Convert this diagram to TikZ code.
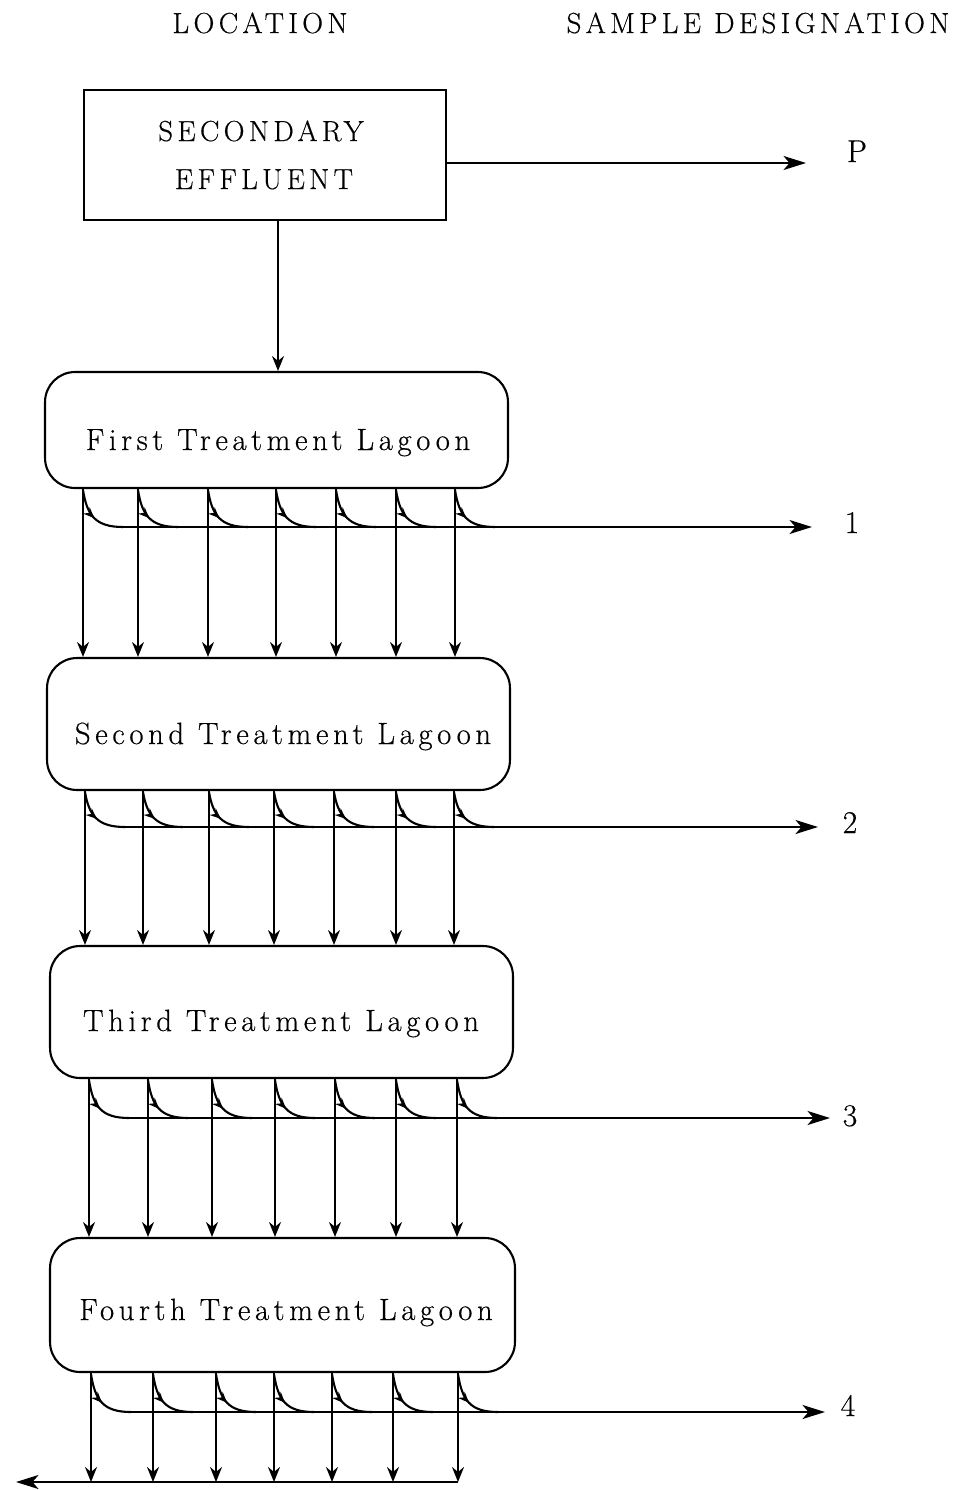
\documentclass[tikz,border=0pt]{standalone}
\usepackage{fontspec}
\setmainfont{Latin Modern Roman}[LetterSpace=15, FakeBold=0.4]
\usetikzlibrary{arrows.meta,decorations.markings}
\begin{document}
\begin{tikzpicture}[x=0.02cm,y=-0.02cm,
  line width=1.2pt,
  txt/.style={font=\fontsize{16.5}{19}\selectfont, inner sep=0pt, anchor=base},
  lagtxt/.style={font=\fontsize{17.5}{20}\selectfont, inner sep=0pt, anchor=base},
  numtxt/.style={font=\fontsize{18}{20}\selectfont, inner sep=0pt, anchor=base},
  lagoon/.style={draw, rounded corners=0.6cm, inner sep=0pt, minimum width=9.26cm},
  main/.style={-{Stealth[length=4.5mm,width=2.8mm,inset=1.2mm]}},
  down/.style={-{Stealth[length=3mm,width=2.4mm,inset=1mm]}},
  branch/.style={postaction={decorate}, decoration={markings, mark=at position 0.5 with {\arrow{Stealth[length=2.2mm,width=1.8mm]}}}}
]
\useasboundingbox (0,0) rectangle (961,1491);

% headings
\node[txt] (hloc) at (260,33) {LOCATION};
\node[txt] (hsam) at (758,33) {SAMPLE DESIGNATION};

% secondary effluent box
\node[draw, minimum width=7.24cm, minimum height=2.6cm, inner sep=0pt] (box) at (265,155) {};
\node[txt] (t1) at (261,141) {SECONDARY};
\node[txt] (t2) at (264,189) {EFFLUENT};
\node[numtxt] (sP) at (857,162) {P};
\coordinate (pS) at (446,163);
\coordinate (pE) at (806,163);
\draw[main] (pS) -- (pE);

% lagoons
\node[lagoon, minimum height=2.32cm] (L1) at (276.5,430) {};
\node[lagoon, minimum height=2.64cm] (L2) at (278.5,724) {};
\node[lagoon, minimum height=2.64cm] (L3) at (281.5,1012) {};
\node[lagoon, minimum width=9.3cm, minimum height=2.68cm] (L4) at (282.5,1305) {};
\node[lagtxt] (n1) at (278,450) {First Treatment Lagoon};
\node[lagtxt] (n2) at (283,744) {Second Treatment Lagoon};
\node[lagtxt] (n3) at (281,1031) {Third Treatment Lagoon};
\node[lagtxt] (n4) at (286,1320) {Fourth Treatment Lagoon};

% feed
\coordinate (fx) at (278,0);
\draw[down] (fx |- box.south) -- (fx |- L1.north);

% sample labels
\node[numtxt] (s1) at (852,533) {1};
\node[numtxt] (s2) at (850,833) {2};
\node[numtxt] (s3) at (850,1126) {3};
\node[numtxt] (s4) at (848,1416) {4};

% row 1
\foreach \x [count=\k] in {83,138,208,276,336,396,455} {
  \coordinate (a\k) at (\x,0);
  \draw[down] (a\k |- L1.south) -- (a\k |- L2.north);
  \draw[branch] (\x,490) .. controls (\x+4,515) and (\x+12,527) .. (\x+40,527);
}
\coordinate (h1s) at (123,527);
\coordinate (h1e) at (812,527);
\draw[main] (h1s) -- (h1e);

% row 2
\foreach \x [count=\k] in {85,143,209,274,334,396,454} {
  \coordinate (b\k) at (\x,0);
  \draw[down] (b\k |- L2.south) -- (b\k |- L3.north);
  \draw[branch] (\x,792) .. controls (\x+4,815) and (\x+12,827) .. (\x+40,827);
}
\coordinate (h2s) at (125,827);
\coordinate (h2e) at (818,827);
\draw[main] (h2s) -- (h2e);

% row 3
\foreach \x [count=\k] in {89,148,212,275,335,396,457} {
  \coordinate (c\k) at (\x,0);
  \draw[down] (c\k |- L3.south) -- (c\k |- L4.north);
  \draw[branch] (\x,1080) .. controls (\x+4,1106) and (\x+12,1118) .. (\x+40,1118);
}
\coordinate (h3s) at (129,1118);
\coordinate (h3e) at (830,1118);
\draw[main] (h3s) -- (h3e);

% row 4
\coordinate (bR) at (458,1482);
\coordinate (bL) at (16,1482);
\foreach \x [count=\k] in {91,153,216,274,332,393,458} {
  \coordinate (d\k) at (\x,0);
  \draw[down] (d\k |- L4.south) -- (d\k |- bR);
  \draw[branch] (\x,1374) .. controls (\x+4,1400) and (\x+12,1412) .. (\x+40,1412);
}
\coordinate (h4s) at (131,1412);
\coordinate (h4e) at (825,1412);
\draw[main] (h4s) -- (h4e);
\draw[main] (bR) -- (bL);
\end{tikzpicture}
\end{document}
